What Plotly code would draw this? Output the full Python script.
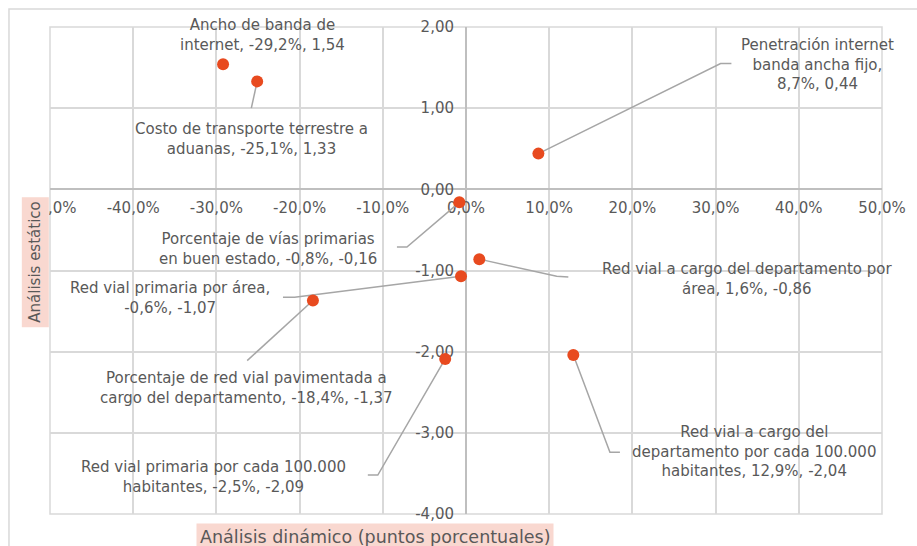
import plotly.graph_objects as go

# Indicator names (line breaks where the label wraps)
names = [
    "Ancho de banda de<br>internet",
    "Costo de transporte terrestre a<br>aduanas",
    "Penetración internet<br>banda ancha fijo",
    "Porcentaje de vías primarias<br>en buen estado",
    "Red vial a cargo del departamento por<br>área",
    "Red vial primaria por área",
    "Porcentaje de red vial pavimentada a<br>cargo del departamento",
    "Red vial primaria por cada 100.000<br>habitantes",
    "Red vial a cargo del<br>departamento por cada 100.000<br>habitantes",
]
# Dynamic analysis (percentage points) and static analysis values
dinamico = [-29.2, -25.1, 8.7, -0.8, 1.6, -0.6, -18.4, -2.5, 12.9]
estatico = [1.54, 1.33, 0.44, -0.16, -0.86, -1.07, -1.37, -2.09, -2.04]

x_ticks = [-50, -40, -30, -20, -10, 0, 10, 20, 30, 40, 50]
y_ticks = [-4, -3, -2, -1, 0, 1, 2]

# Label layout: separator before the values, label centre, leader-line path
label_sep = [", ", ", ", ",<br>", ", ", ", ", ",<br>", ", ", ", ", ", "]
label_pos = [
    (-24.5, 1.90), (-25.8, 0.62), (42.3, 1.54), (-23.8, -0.73), (33.8, -1.10),
    (-35.6, -1.34), (-26.4, -2.45), (-30.3, -3.54), (34.6, -3.23),
]
leader_path = [
    [],
    [(-25.8, 1.00)],
    [(30.6, 1.55), (31.9, 1.55)],
    [(-7.1, -0.71), (-8.3, -0.71)],
    [(10.9, -1.07), (12.3, -1.08)],
    [(-20.6, -1.33), (-22.0, -1.33)],
    [(-26.3, -2.11)],
    [(-10.6, -3.52), (-11.8, -3.52)],
    [(17.3, -3.24), (18.5, -3.24)],
]

FONT = "DejaVu Sans"
TXT = "#595959"
GRID = "#D9D9D9"
PINK = "#F9D8D0"


def fmt_x(v):
    return f"{v:.1f}".replace(".", ",") + "%"


def fmt_y(v):
    return f"{v:.2f}".replace(".", ",")


fig = go.Figure()

# leader lines from each point to its label
lx, ly = [], []
for xv, yv, path in zip(dinamico, estatico, leader_path):
    if not path:
        continue
    lx.append(xv)
    ly.append(yv)
    for px, py in path:
        lx.append(px)
        ly.append(py)
    lx.append(None)
    ly.append(None)
fig.add_trace(go.Scatter(
    x=lx, y=ly, mode="lines", hoverinfo="skip",
    line=dict(color="#A6A6A6", width=1.5), showlegend=False,
))

fig.add_trace(go.Scatter(
    x=dinamico, y=estatico, mode="markers",
    marker=dict(color="#E84A1F", size=12, line=dict(width=0)),
    showlegend=False,
))

for name, sep, xv, yv, (ax_, ay_) in zip(names, label_sep, dinamico, estatico, label_pos):
    fig.add_annotation(
        x=ax_, y=ay_, xref="x", yref="y", showarrow=False,
        text=f"{name}{sep}{fmt_x(xv)}, {fmt_y(yv)}",
        align="center", xanchor="center", yanchor="middle",
        font=dict(family=FONT, size=15, color=TXT),
    )

# axis titles on shaded boxes
fig.add_annotation(
    x=0.3906, y=-0.047, xref="paper", yref="paper", showarrow=False,
    text="Análisis dinámico (puntos porcentuales)",
    xanchor="center", yanchor="middle", bgcolor=PINK, borderpad=3,
    font=dict(family=FONT, size=17.5, color=TXT),
)
fig.add_annotation(
    x=-0.018, y=0.516, xref="paper", yref="paper", showarrow=False,
    text="Análisis estático", textangle=-90,
    xanchor="center", yanchor="middle", bgcolor=PINK, borderpad=4,
    font=dict(family=FONT, size=15, color=TXT),
)

# plot frame and outer chart border
fig.add_shape(type="rect", xref="paper", yref="paper", x0=0, x1=1, y0=0, y1=1,
              line=dict(color=GRID, width=1.5), layer="below")
fig.add_shape(type="rect", xref="paper", yref="paper", x0=-0.0493, x1=1.2, y0=-0.2, y1=1.037,
              line=dict(color=GRID, width=1.5), layer="below")

fig.update_layout(
    width=917, height=546,
    margin=dict(l=50, r=35, t=27, b=32),
    paper_bgcolor="white", plot_bgcolor="white",
    font=dict(family=FONT, color=TXT),
    xaxis=dict(
        range=[-50, 50], tickmode="array", tickvals=x_ticks,
        ticktext=[fmt_x(v) for v in x_ticks],
        anchor="free", position=4 / 6, showgrid=True, gridcolor=GRID, gridwidth=1.5,
        zeroline=True, zerolinecolor="#BFBFBF", zerolinewidth=1.5,
        showline=False, ticks="", ticklabelstandoff=8, layer="below traces",
        tickfont=dict(family=FONT, size=15, color=TXT),
    ),
    yaxis=dict(
        range=[-4, 2], tickmode="array", tickvals=y_ticks,
        ticktext=[fmt_y(v) for v in y_ticks],
        anchor="free", position=0.5, showgrid=True, gridcolor=GRID, gridwidth=1.5,
        zeroline=True, zerolinecolor="#BFBFBF", zerolinewidth=1.5,
        showline=False, ticks="", ticklabelstandoff=12, layer="below traces",
        tickfont=dict(family=FONT, size=15, color=TXT),
    ),
)

fig.write_html("out.html")
